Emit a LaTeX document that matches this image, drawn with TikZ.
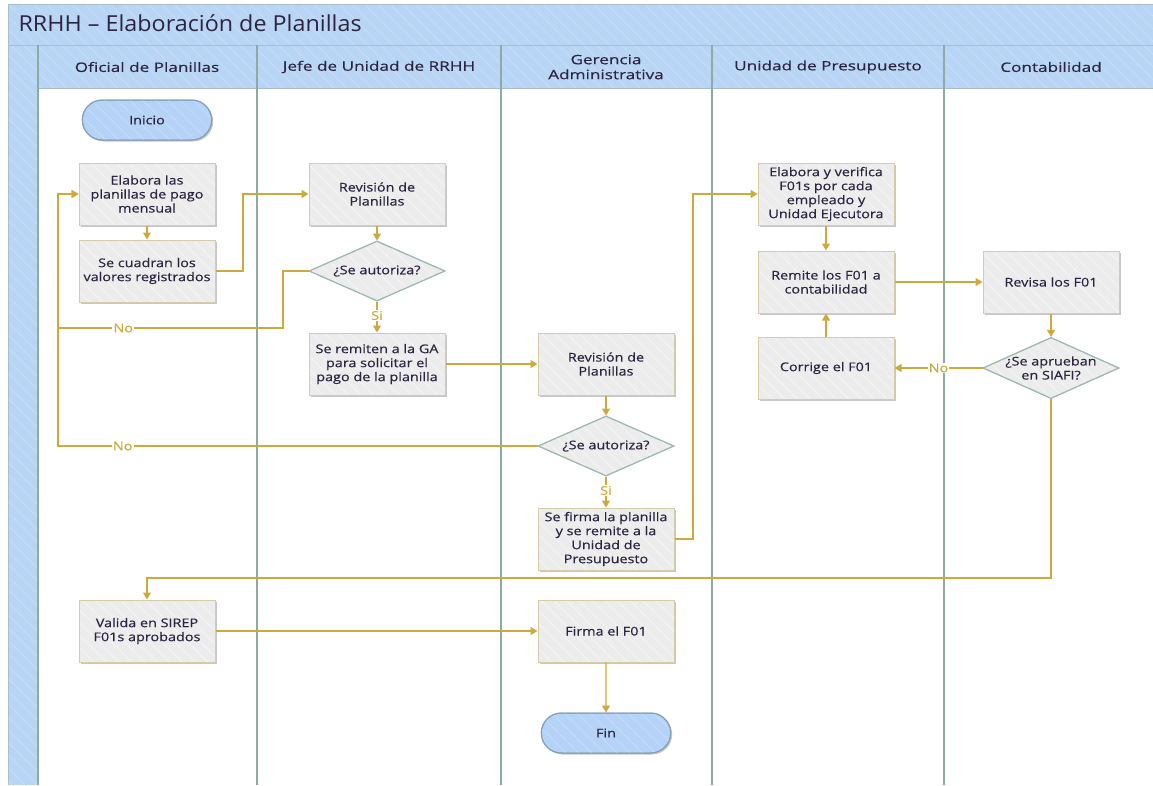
\documentclass[tikz,border=0pt]{standalone}
\usepackage{fontspec}
\setmainfont{Open Sans}
\newfontfamily\nodefont{Open Sans}[FakeStretch=1.2,FakeBold=0.4]
\newfontfamily\headfont{Open Sans}[FakeStretch=1.32,FakeBold=0.4]
\newfontfamily\titlefont{Open Sans}[FakeStretch=1.06]
\usetikzlibrary{arrows.meta,shapes.geometric,shapes.misc,shadows,patterns.meta}

\definecolor{hdrblue}{RGB}{184,213,246}
\definecolor{hdrline}{RGB}{168,190,204}
\definecolor{laneline}{RGB}{143,170,162}
\definecolor{flow}{RGB}{206,170,58}
\definecolor{boxfill}{RGB}{236,236,236}
\definecolor{boxline}{RGB}{214,204,168}
\definecolor{decline}{RGB}{160,184,174}
\definecolor{termfill}{RGB}{180,211,247}
\definecolor{termline}{RGB}{132,160,184}
\definecolor{ink}{RGB}{44,36,64}

\tikzset{
  % faint diagonal hatching laid over a fill, then the outline drawn again on top
  hatch/.style={postaction={pattern={Lines[angle=-45,distance=9pt,line width=0.7pt]},
    pattern color=#1}},
  reline/.style={postaction={draw=#1, line width=1pt}},
  shade/.style={drop shadow={shadow xshift=1.5pt,shadow yshift=-1.5pt,opacity=0.22,fill=black}},
  process/.style={rectangle, draw=boxline, fill=boxfill, line width=1pt,
    minimum width=136pt, minimum height=62pt, inner sep=2pt, align=center,
    text=ink, font=\nodefont\fontsize{12}{14}\selectfont, shade,
    hatch=white!55!boxfill, reline=boxline},
  decision/.style={diamond, draw=decline, fill=boxfill, line width=1pt,
    minimum width=136pt, minimum height=60pt, inner sep=0pt, aspect=2.2,
    align=center, text=ink, font=\nodefont\fontsize{12}{14}\selectfont,
    hatch=white!55!boxfill, reline=decline},
  terminal/.style={rounded rectangle, draw=termline, fill=termfill, line width=1pt,
    minimum width=136pt, minimum height=40pt, text=ink,
    font=\nodefont\fontsize{12}{14}\selectfont, shade,
    hatch=white!25!termfill, reline=termline},
  flowline/.style={draw=flow, line width=1.3pt, -{Triangle[length=7pt,width=8pt]}},
  lbl/.style={text=flow, fill=white, inner sep=1pt, font=\nodefont\fontsize{12}{14}\selectfont},
  lanehead/.style={align=center, text=ink, font=\headfont\fontsize{13}{15}\selectfont},
  lanesep/.style={draw=laneline, line width=1.5pt},
}

\begin{document}
\begin{tikzpicture}[x=1pt,y=-1pt]
\useasboundingbox (0,0) rectangle (1153,785);
\fill[white] (0,0) rectangle (1153,785);

% pool frame: title bar, lane header row and left strip
\fill[hdrblue, hatch=white!22!hdrblue] (8,4) rectangle (1153,45);
\fill[hdrblue, hatch=white!22!hdrblue] (38,45) rectangle (1153,88);
\fill[hdrblue, hatch=white!22!hdrblue] (8,45) rectangle (38,785);
\draw[hdrline, line width=1pt] (8,785) -- (8,4) -- (1153,4);
\draw[hdrline, line width=1pt] (8,45) -- (1153,45);
\draw[hdrline, line width=1pt] (38,88) -- (1153,88);
\node[anchor=west, text=ink, font=\titlefont\fontsize{22}{24}\selectfont] (title) at (15,23) {RRHH – Elaboración de Planillas};

% lane separators
\foreach \lx in {38,257,501,712,944} {
  \draw[lanesep] (\lx,45) -- (\lx,785);
}

% lane titles
\node[lanehead] (h1) at (147,67) {Oficial de Planillas};
\node[lanehead] (h2) at (379,67) {Jefe de Unidad de RRHH};
\node[lanehead] (h3) at (606,67) {Gerencia\\Administrativa};
\node[lanehead] (h4) at (828,67) {Unidad de Presupuesto};
\node[lanehead] (h5) at (1051,67) {Contabilidad};

% Oficial de Planillas
\node[terminal] (inicio) at (147,120) {Inicio};
\node[process] (elab) at (147,194) {Elabora las\\planillas de pago\\mensual};
\node[process] (cuad) at (147,271) {Se cuadran los\\valores registrados};
\node[process] (valida) at (147,631) {Valida en SIREP\\F01s aprobados};

% Jefe de Unidad de RRHH
\node[process] (revj) at (377,194) {Revisión de\\Planillas};
\node[decision] (autj) at (377,271) {¿Se autoriza?};
\node[process] (remga) at (377,364) {Se remiten a la GA\\para solicitar el\\pago de la planilla};

% Gerencia Administrativa
\node[process] (revg) at (606,364) {Revisión de\\Planillas};
\node[decision] (autg) at (606,446) {¿Se autoriza?};
\node[process] (firma) at (606,539) {Se firma la planilla\\y se remite a la\\Unidad de\\Presupuesto};
\node[process] (firf) at (606,631) {Firma el F01};
\node[terminal] (fin) at (606,733) {Fin};

% Unidad de Presupuesto
\node[process] (elav) at (826,194) {Elabora y verifica\\F01s por cada\\empleado y\\Unidad Ejecutora};
\node[process] (remf) at (826,282) {Remite los F01 a\\contabilidad};
\node[process] (corr) at (826,368) {Corrige el F01};

% Contabilidad
\node[process] (revf) at (1051,282) {Revisa los F01};
\node[decision, inner xsep=-4pt] (siafi) at (1051,368) {¿Se aprueban\\en SIAFI?};

% bend points
\coordinate (b1) at (243,271);
\coordinate (nj) at (283,328);
\coordinate (nl1) at (58,328);
\coordinate (nl2) at (58,446);
\coordinate (b2) at (693,539);
\coordinate (b3) at (1051,578);

% connectors
\draw[flowline] (elab) -- (cuad);
\draw[flowline] (cuad.east) -- (b1) |- (revj.west);
\draw[flowline] (revj) -- (autj);
\draw[flowline] (autj.west) -| (nj) -- node[lbl,pos=0.71]{No} (nl1) |- (elab.west);
\draw[flowline] (autj.south) -- node[lbl,pos=0.45]{Si} (remga.north);
\draw[flowline] (remga.east) -- (revg.west);
\draw[flowline] (revg) -- (autg);
\draw[flowline] (autg.west) -- node[lbl,pos=0.865]{No} (nl2) |- (elab.west);
\draw[flowline] (autg.south) -- node[lbl,pos=0.45]{Si} (firma.north);
\draw[flowline] (firma.east) -- (b2) |- (elav.west);
\draw[flowline] (elav) -- (remf);
\draw[flowline] (remf.east) -- (revf.west);
\draw[flowline] (revf) -- (siafi);
\draw[flowline] (siafi.west) -- node[lbl,pos=0.5]{No} (corr.east);
\draw[flowline] (corr) -- (remf);
\draw[flowline] (siafi.south) -- (b3) -| (valida.north);
\draw[flowline] (valida.east) -- (firf.west);
\draw[flowline] (firf) -- (fin);
\end{tikzpicture}
\end{document}
